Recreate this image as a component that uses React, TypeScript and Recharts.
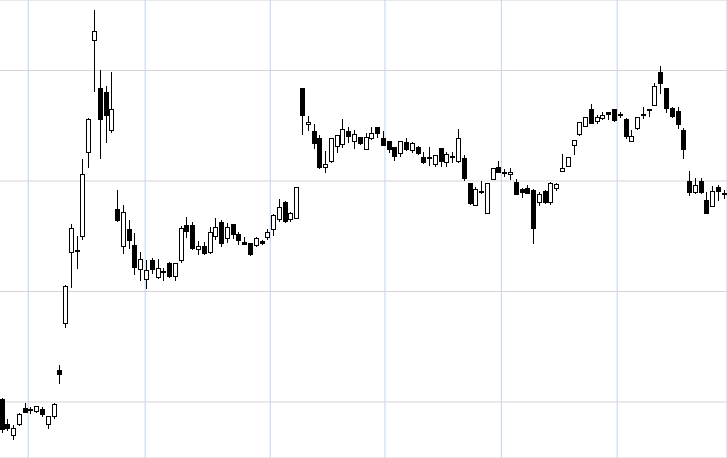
import React from 'react';
import { ComposedChart, Bar, XAxis, YAxis, CartesianGrid } from 'recharts';

const openVals = [
  10.27, 8.01, 7.01, 8.01, 9.46, 9.32, 9.18, 9.37, 8.01, 8.73,
  12.9, 17.15, 23.57, 23.71, 25.02, 32.62, 42.76, 38.42, 38.05, 34.62,
  27.47, 24.12, 25.66, 24.21, 22.04, 21.13, 22.85, 21.31, 21.81, 22.58,
  21.4, 22.85, 26.02, 26.02, 23.85, 24.12, 23.57, 25.02, 26.29, 24.84,
  26.11, 25.2, 24.48, 24.39, 24.21, 24.57, 24.93, 25.66, 26.56, 28.1,
  26.56, 26.65, 38.42, 35.16, 34.52, 33.89, 31.27, 31.81, 33.17, 33.35,
  34.52, 33.62, 33.98, 32.9, 33.89, 34.89, 33.89, 33.62, 33.08, 32.53,
  33.53, 32.81, 33.08, 32.17, 32.13, 31.54, 32.99, 31.72, 32.22, 31.81,
  32.08, 29.82, 27.83, 29.05, 27.1, 30.18, 31.27, 30.85, 30.63, 29.91,
  29.28, 29.37, 29.19, 28.1, 29.1, 28.1, 29.37, 30.91, 31.36, 33.26,
  34.25, 34.98, 36.52, 35.43, 35.7, 36.24, 36.52, 36.1, 35.61, 33.62,
  34.8, 36.1, 36.52, 36.88, 39.86, 38.42, 36.61, 36.33, 34.62, 30.0,
  29.01, 30.0, 28.28, 27.74, 29.46, 28.87,
];

const highVals = [
  10.36, 8.46, 7.92, 9.0, 9.91, 9.57, 9.66, 9.55, 8.76, 9.91,
  13.35, 20.59, 26.11, 25.02, 31.99, 35.7, 45.48, 40.05, 38.6, 39.86,
  29.19, 27.83, 26.47, 25.29, 23.57, 22.85, 23.03, 22.94, 22.13, 22.67,
  22.62, 25.93, 26.74, 26.29, 24.57, 24.48, 25.84, 26.65, 26.47, 26.2,
  26.15, 25.38, 24.93, 24.43, 24.93, 24.66, 25.66, 27.01, 28.37, 28.19,
  27.19, 29.5, 38.45, 35.88, 35.16, 34.16, 32.71, 33.93, 34.2, 35.61,
  34.89, 34.62, 34.0, 34.34, 34.89, 34.93, 34.52, 33.66, 33.12, 33.66,
  33.89, 33.53, 33.17, 32.62, 33.08, 32.39, 33.03, 32.62, 32.62, 34.71,
  32.35, 29.86, 29.46, 30.0, 29.86, 31.22, 31.81, 31.09, 31.18, 30.18,
  29.37, 29.64, 29.23, 29.01, 29.14, 29.91, 29.82, 32.44, 32.21, 33.75,
  35.38, 35.83, 36.97, 35.97, 36.24, 36.28, 36.56, 36.24, 35.7, 34.62,
  35.83, 36.7, 36.56, 38.87, 40.41, 38.46, 36.7, 36.7, 34.8, 30.91,
  30.27, 30.27, 29.01, 29.55, 29.64, 29.19,
];

const lowVals = [
  7.28, 7.47, 6.65, 7.92, 9.05, 9.03, 9.09, 8.73, 7.65, 8.55,
  11.72, 16.79, 20.41, 22.13, 24.75, 31.27, 38.14, 32.08, 33.53, 34.43,
  26.38, 23.48, 23.94, 21.58, 21.04, 20.32, 21.67, 21.22, 21.04, 21.31,
  21.04, 22.67, 24.93, 23.85, 23.39, 23.39, 23.48, 24.75, 24.12, 24.48,
  24.84, 24.3, 24.3, 23.3, 24.12, 24.3, 24.75, 25.11, 26.38, 26.29,
  26.38, 26.61, 34.25, 34.62, 32.99, 31.2, 30.81, 31.72, 32.62, 33.08,
  33.53, 32.99, 33.35, 32.86, 33.8, 33.98, 33.22, 32.62, 31.9, 32.26,
  32.81, 32.62, 32.44, 31.63, 31.45, 31.36, 31.36, 31.36, 31.72, 31.72,
  30.09, 27.92, 27.79, 28.95, 27.06, 30.14, 30.77, 30.45, 30.18, 28.79,
  28.55, 28.88, 24.39, 27.83, 28.01, 27.92, 29.19, 30.87, 31.32, 32.44,
  34.16, 34.94, 35.21, 35.25, 35.61, 35.61, 35.43, 35.79, 33.89, 33.58,
  34.71, 35.7, 35.88, 36.84, 37.96, 36.24, 35.79, 34.8, 32.08, 28.74,
  28.92, 28.92, 27.06, 27.7, 28.28, 28.46,
];

const closeVals = [
  7.56, 7.65, 7.65, 8.91, 9.09, 9.28, 9.64, 8.91, 8.73, 9.82,
  12.53, 20.5, 25.75, 23.62, 30.63, 35.61, 43.57, 35.61, 35.97, 36.52,
  26.47, 27.19, 24.66, 22.22, 22.94, 21.95, 22.04, 22.13, 21.72, 21.4,
  22.58, 25.75, 25.47, 23.94, 24.12, 23.48, 25.38, 25.84, 24.39, 25.84,
  25.2, 24.66, 24.34, 23.39, 24.84, 24.39, 25.38, 26.92, 27.65, 26.38,
  27.1, 29.46, 35.97, 35.34, 33.44, 31.27, 31.54, 33.89, 34.16, 34.71,
  34.07, 34.25, 33.44, 33.98, 34.34, 34.34, 33.26, 32.9, 32.26, 33.62,
  32.9, 33.44, 32.53, 31.72, 32.04, 32.35, 31.81, 32.44, 32.13, 33.89,
  30.27, 28.01, 29.28, 29.01, 29.82, 31.18, 30.81, 30.76, 30.81, 28.83,
  29.01, 28.92, 25.75, 28.83, 28.1, 29.82, 29.73, 31.18, 32.17, 33.71,
  35.34, 35.79, 35.25, 35.79, 35.97, 36.06, 35.52, 36.01, 34.07, 34.07,
  35.79, 36.01, 36.47, 38.6, 38.87, 36.61, 35.88, 35.16, 32.9, 29.01,
  29.64, 29.01, 27.1, 29.1, 29.1, 28.79,
];

const dayIndex = openVals.map((_, i) => i);
const priceTicks = [10, 20, 30, 40];
const monthTicks = [4.55, 24.8, 46.45, 66.3, 86.45, 106.5];

const data = dayIndex.map((i) => ({
  idx: i,
  open: openVals[i],
  high: highVals[i],
  low: lowVals[i],
  close: closeVals[i],
}));

const Candle = (props: any) => {
  const { x, y, width, height, payload } = props;
  if (!payload || x == null || y == null || height == null) return null;
  const { open, high, low, close } = payload;
  const y1 = Math.min(y, y + height);
  const y2 = Math.max(y, y + height);
  const span = high - low || 1;
  const py = (v: number) => y1 + ((high - v) / span) * (y2 - y1);
  const wx = Math.floor(x + width / 2) + 0.5;
  const bx = wx - 2;
  const bull = close >= open;
  const top = Math.round(py(Math.max(open, close))) + 0.5;
  const bot = Math.round(py(Math.min(open, close))) + 0.5;
  const hy = Math.round(py(high));
  const ly = Math.round(py(low)) + 1;
  return (
    <g>
      <line x1={wx} x2={wx} y1={hy} y2={ly} stroke="#000" strokeWidth={1} />
      {bot - top < 1 ? (
        <line x1={bx - 0.5} x2={bx + 4.5} y1={top} y2={top} stroke="#000" strokeWidth={1} />
      ) : (
        <rect
          x={bx}
          y={top}
          width={4}
          height={bot - top}
          fill={bull ? '#fff' : '#000'}
          stroke="#000"
          strokeWidth={1}
        />
      )}
    </g>
  );
};

export default function App() {
  return (
    <div style={{ position: 'absolute', left: -1, top: 0, background: '#fff' }}>
      <ComposedChart width={728} height={458} data={data} margin={{ top: 0, right: 0, bottom: 0, left: 0 }}>
        <XAxis xAxisId="cat" dataKey="idx" type="category" hide />
        <XAxis
          xAxisId="grid"
          dataKey="idx"
          type="number"
          domain={[-0.5, 125.5]}
          ticks={monthTicks}
          allowDataOverflow
          hide
        />
        <YAxis domain={[4.93, 46.38]} ticks={priceTicks} allowDataOverflow hide />
        <CartesianGrid xAxisId="grid" horizontal={false} stroke="#c3d5ec" />
        <CartesianGrid xAxisId="cat" vertical={false} stroke="#d4d4d4" />
        <Bar
          xAxisId="cat"
          dataKey={(d: any) => [d.low, d.high]}
          shape={<Candle />}
          isAnimationActive={false}
        />
      </ComposedChart>
    </div>
  );
}
